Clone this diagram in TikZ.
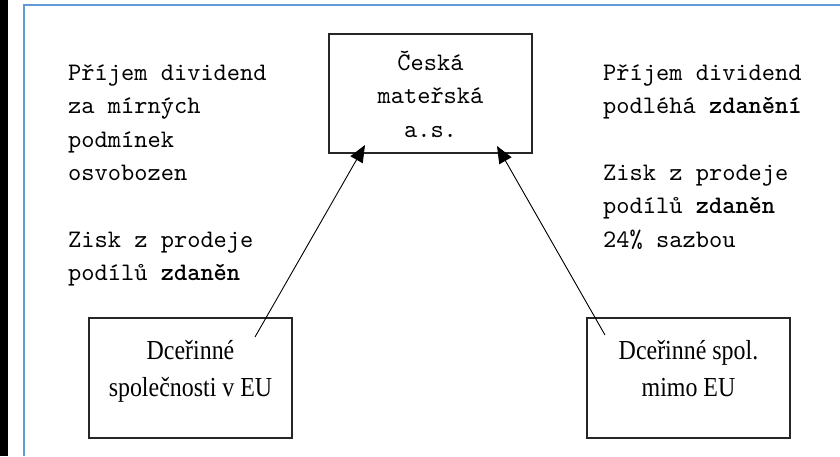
\documentclass[tikz,border=0pt]{standalone}
\usepackage{fontspec}
\usetikzlibrary{arrows.meta,calc}
\newfontfamily\monofont{lmmono10-regular}[Extension=.otf, BoldFont=lmmonolt10-bold]
\newfontfamily\seriffont{Liberation Serif}
\definecolor{frameblue}{RGB}{95,155,215}
\begin{document}
\begin{tikzpicture}[x=1pt,y=-1pt,
  boxstyle/.style={draw=black!85, line width=1.5pt, inner sep=0pt},
  monotext/.style={font=\monofont\fontsize{25.2}{33.3}\selectfont, inner sep=0pt, align=left},
  seriftext/.style={font=\seriffont\fontsize{27.5}{37}\selectfont, inner sep=0pt, align=center, xscale=0.87, transform shape},
  arrowline/.style={line width=0.9pt, -{Triangle[length=17pt,width=14pt]}}]
\useasboundingbox (0,0) rectangle (840,456);
\fill[white] (0,0) rectangle (840,456);
\fill[black] (0,0) rectangle (7.5,456);
\draw[frameblue, line width=2pt] (24,456) -- (24,4.5) -- (840,4.5);

\node[boxstyle, minimum width=203pt, minimum height=119pt] (parent) at (430.5,93.5) {};
\node[boxstyle, minimum width=203pt, minimum height=120pt] (euchild) at (190.5,378) {};
\node[boxstyle, minimum width=203pt, minimum height=120pt] (nonchild) at (688.5,378) {};

\node[monotext, align=center, anchor=base] (parenttext) at (430.5,137) {Česká\\mateřská\\a.s.};
\node[monotext, anchor=base west] (lefttext) at (68,280.3) {Příjem dividend\\za mírných\\podmínek\\osvobozen\\[33.3pt]Zisk z prodeje\\podílů \textbf{zdaněn}};
\node[monotext, anchor=base west] (righttext) at (603,247) {Příjem dividend\\podléhá \textbf{zdanění}\\[33.3pt]Zisk z prodeje\\podílů \textbf{zdaněn}\\24\% sazbou};

\node[seriftext, anchor=base] (eutext) at (190.5,396) {Dceřinné\\společnosti v EU};
\node[seriftext, anchor=base] (nontext) at (688.5,396) {Dceřinné spol.\\mimo EU};

\coordinate (euend) at (255,337);
\coordinate (parentleft) at (365,145);
\coordinate (nonend) at (605,335);
\coordinate (parentright) at (497,146);
\draw[arrowline] (euend) -- (parentleft);
\draw[arrowline] (nonend) -- (parentright);
\end{tikzpicture}
\end{document}
